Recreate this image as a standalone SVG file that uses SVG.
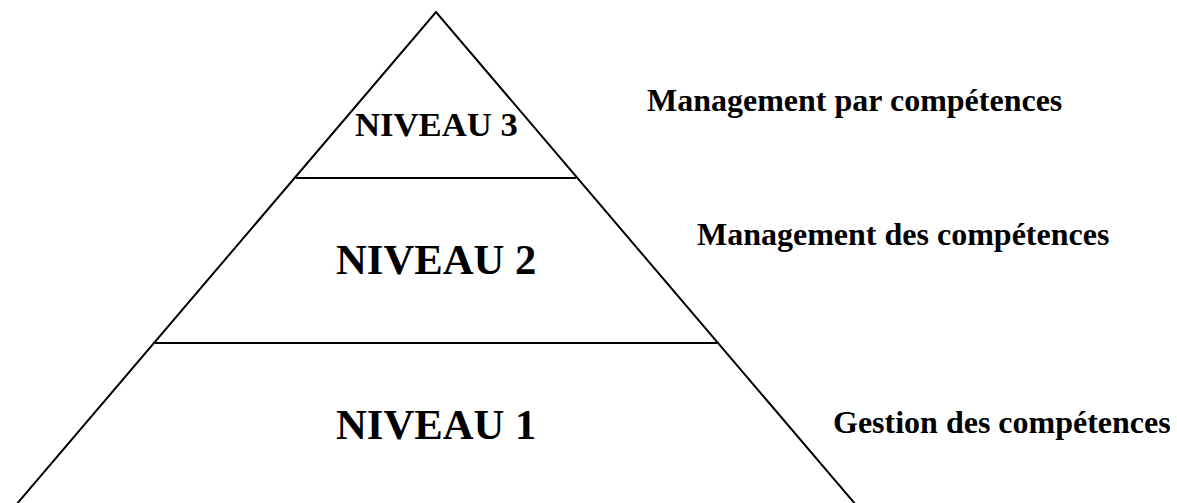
<svg xmlns="http://www.w3.org/2000/svg" width="1177" height="503" viewBox="0 0 1177 503">
  <style>
    .edge { fill: none; stroke: #000; stroke-width: 2; }
    .lvl { font-family: "Liberation Serif", "Times New Roman", serif; font-weight: bold; fill: #000; }
    .big { font-size: 42.7px; }
    .mid { font-size: 34.7px; }
    .side { font-family: "Liberation Serif", "Times New Roman", serif; font-weight: bold; font-size: 32px; fill: #000; }
  </style>
  <rect width="1177" height="503" fill="#fff"/>
  <g id="connectors">
    <!-- pyramid outline, running past the bottom edge -->
    <polyline class="edge" points="10,512 436,12 862,512"/>
    <line class="edge" x1="296" y1="178" x2="576" y2="178"/>
    <line class="edge" x1="155" y1="343" x2="717" y2="343"/>
  </g>
  <g id="niveau3">
    <text class="lvl mid" x="355" y="136">NIVEAU 3</text>
  </g>
  <g id="niveau2">
    <text class="lvl big" x="336" y="274">NIVEAU 2</text>
  </g>
  <g id="niveau1">
    <text class="lvl big" x="336" y="439">NIVEAU 1</text>
  </g>
  <g id="label3">
    <text class="side" x="647" y="111">Management par compétences</text>
  </g>
  <g id="label2">
    <text class="side" x="697" y="245">Management des compétences</text>
  </g>
  <g id="label1">
    <text class="side" x="833" y="433">Gestion des compétences</text>
  </g>
</svg>
